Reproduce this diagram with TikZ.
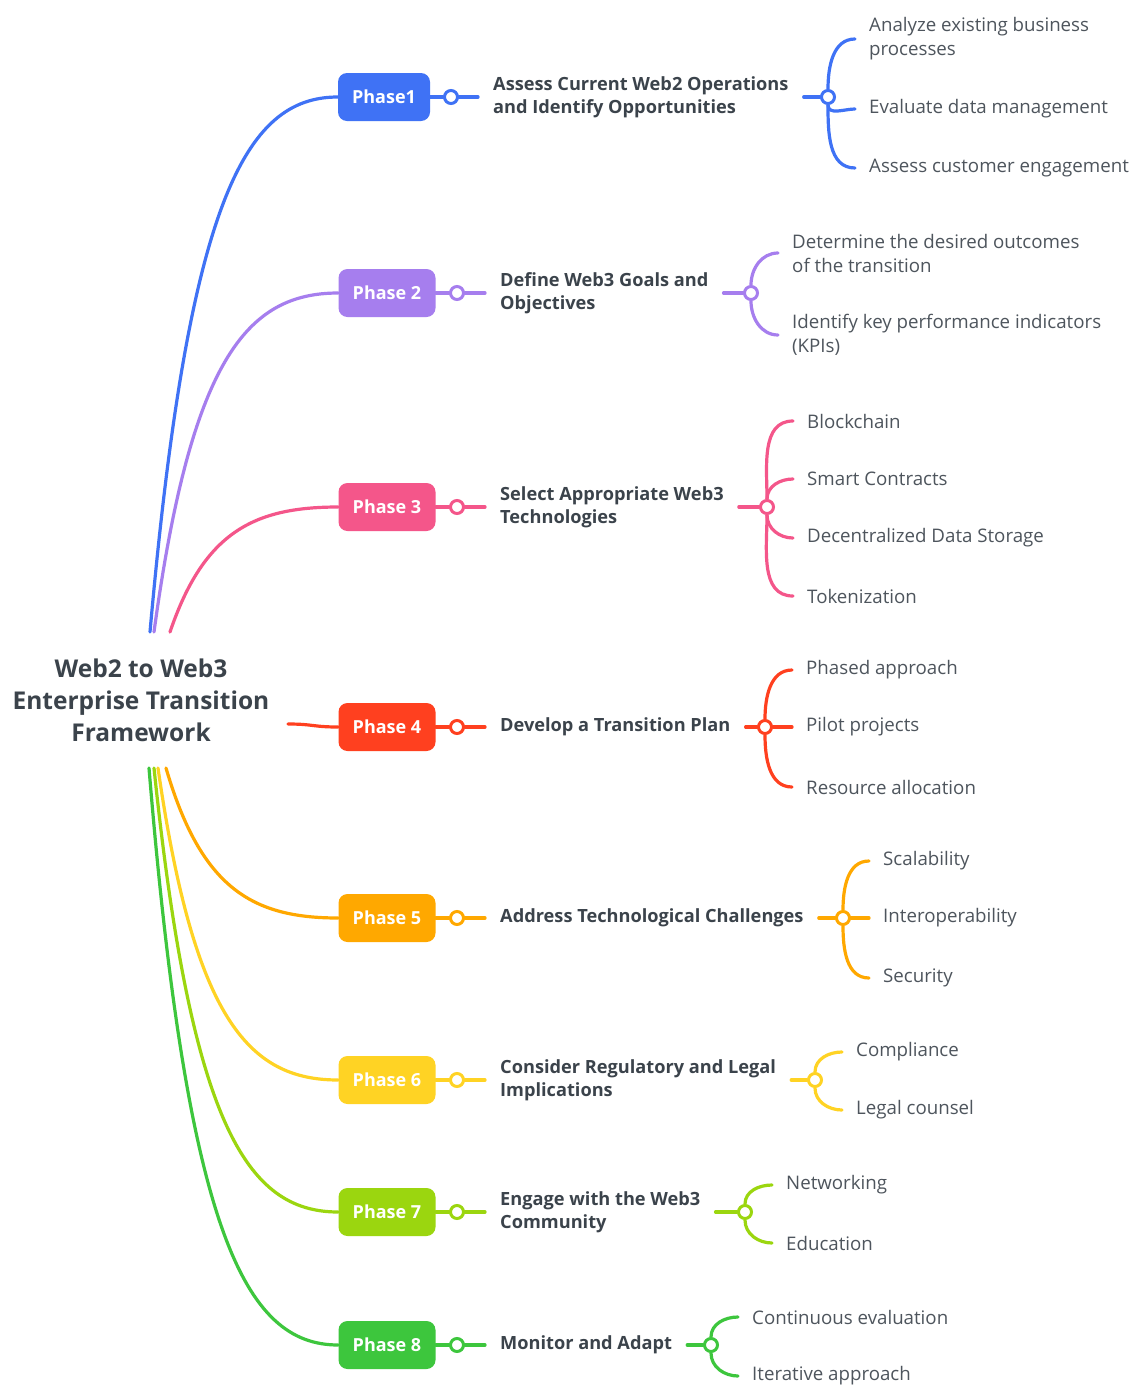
\documentclass[tikz,border=0pt]{standalone}
\usepackage{fontspec}
\setmainfont{Open Sans}
\usetikzlibrary{calc}
\definecolor{cblue}{HTML}{3F72F5}
\definecolor{cpurple}{HTML}{A67EEE}
\definecolor{cpink}{HTML}{F4568A}
\definecolor{cred}{HTML}{FF401F}
\definecolor{corange}{HTML}{FFA800}
\definecolor{cyellow}{HTML}{FFD324}
\definecolor{clime}{HTML}{9BD60F}
\definecolor{cgreen}{HTML}{3DC63D}
\definecolor{ink}{HTML}{3B434B}
\definecolor{leafink}{HTML}{4E555D}
\begin{document}
\begin{tikzpicture}[x=1pt,y=-1pt,
  link/.style={line width=3.2pt, line cap=round},
  phasebox/.style={fill=#1, rounded corners=9pt, minimum height=48pt, minimum width=97pt,
    text=white, font=\fontsize{18}{20}\selectfont\bfseries, inner sep=0pt},
  knob/.style={circle, draw=#1, line width=3pt, fill=white, minimum size=13pt, inner sep=0pt},
  stage/.style={anchor=west, align=left, text=ink, font=\fontsize{18.2}{23}\selectfont\bfseries,
    inner xsep=15pt, inner ysep=0pt},
  leaf/.style={anchor=west, align=left, text=leafink, font=\fontsize{18.7}{24}\selectfont,
    inner xsep=14pt, inner ysep=0pt, yshift=-2pt},
]
\useasboundingbox[fill=white] (0,0) rectangle (1135,1395);

% central topic
\node[align=center, text=ink, font=\fontsize{24.5}{32}\selectfont\bfseries] (root) at (141,700)
  {Web2 to Web3\\Enterprise Transition\\Framework};
\coordinate (s1) at (150,632);
\coordinate (s2) at (154,632);
\coordinate (s3) at (170,632);
\coordinate (s4) at (288,724);
\coordinate (s5) at (166,768);
\coordinate (s6) at (158,768);
\coordinate (s7) at (154,768);
\coordinate (s8) at (149,768);

% ---------- Phase 1 ----------
\node[phasebox=cblue, minimum width=92pt] (p1) at (384,97) {Phase1};
\node[knob=cblue] (c1) at (451,97) {};
\node[stage] (t1) at (478,97) {Assess Current Web2 Operations\\and Identify Opportunities};
\node[knob=cblue] (h1) at (828,97) {};
\node[leaf] (l11) at (855,37) {Analyze existing business\\processes};
\node[leaf] (l12) at (855,107) {Evaluate data management};
\node[leaf] (l13) at (855,166) {Assess customer engagement};
\draw[link,cblue] (s1) .. controls (188,204) and (244,97) .. (p1.west);
\draw[link,cblue] (p1.east) -- (c1) -- (t1.west);
\draw[link,cblue] (t1.east) -- (h1);
\draw[link,cblue] (h1) to[out=90,in=180] (l11.west);
\draw[link,cblue] (h1) to[out=-90,in=180] (l12.west);
\draw[link,cblue] (h1) to[out=-90,in=180] (l13.west);

% ---------- Phase 2 ----------
\node[phasebox=cpurple] (p2) at (387,293) {Phase 2};
\node[knob=cpurple] (c2) at (457,293) {};
\node[stage] (t2) at (485,293) {Define Web3 Goals and\\Objectives};
\node[knob=cpurple] (h2) at (751,293) {};
\node[leaf] (l21) at (778,251) {Determine the desired outcomes\\of the transition};
\node[leaf] (l22) at (778,333) {Identify key performance indicators\\(KPIs)};
\draw[link,cpurple] (s2) .. controls (191,361) and (246,293) .. (p2.west);
\draw[link,cpurple] (p2.east) -- (c2) -- (t2.west);
\draw[link,cpurple] (t2.east) -- (h2);
\draw[link,cpurple] (h2) to[out=90,in=180] (l21.west);
\draw[link,cpurple] (h2) to[out=-90,in=180] (l22.west);

% ---------- Phase 3 ----------
\node[phasebox=cpink] (p3) at (387,507) {Phase 3};
\node[knob=cpink] (c3) at (457,507) {};
\node[stage] (t3) at (485,507) {Select Appropriate Web3\\Technologies};
\node[knob=cpink] (h3) at (767,507) {};
\node[leaf] (l31) at (793,419) {Blockchain};
\node[leaf] (l32) at (793,477) {Smart Contracts};
\node[leaf] (l33) at (793,536) {Decentralized Data Storage};
\node[leaf] (l34) at (793,594) {Tokenization};
\draw[link,cpink] (s3) .. controls (204,532) and (254,507) .. (p3.west);
\draw[link,cpink] (p3.east) -- (c3) -- (t3.west);
\draw[link,cpink] (t3.east) -- (h3);
\draw[link,cpink] (h3) to[out=90,in=180] (l31.west);
\draw[link,cpink] (h3) to[out=90,in=180] (l32.west);
\draw[link,cpink] (h3) to[out=-90,in=180] (l33.west);
\draw[link,cpink] (h3) to[out=-90,in=180] (l34.west);

% ---------- Phase 4 ----------
\node[phasebox=cred] (p4) at (387,727) {Phase 4};
\node[knob=cred] (c4) at (457,727) {};
\node[stage] (t4) at (485,727) {Develop a Transition Plan};
\node[knob=cred] (h4) at (765,727) {};
\node[leaf] (l41) at (792,668) {Phased approach};
\node[leaf, yshift=2pt] (l42) at (792,727) {Pilot projects};
\node[leaf] (l43) at (792,785) {Resource allocation};
\draw[link,cred] (s4) .. controls (313,724) and (313,727) .. (p4.west);
\draw[link,cred] (p4.east) -- (c4) -- (t4.west);
\draw[link,cred] (t4.east) -- (h4);
\draw[link,cred] (h4) to[out=90,in=180] (l41.west);
\draw[link,cred] (h4) -- (l42.west);
\draw[link,cred] (h4) to[out=-90,in=180] (l43.west);

% ---------- Phase 5 ----------
\node[phasebox=corange] (p5) at (387,918) {Phase 5};
\node[knob=corange] (c5) at (457,918) {};
\node[stage] (t5) at (485,918) {Address Technological Challenges};
\node[knob=corange] (h5) at (843,918) {};
\node[leaf] (l51) at (869,859) {Scalability};
\node[leaf, yshift=2pt] (l52) at (869,918) {Interoperability};
\node[leaf] (l53) at (869,976) {Security};
\draw[link,corange] (s5) .. controls (201,888) and (252,918) .. (p5.west);
\draw[link,corange] (p5.east) -- (c5) -- (t5.west);
\draw[link,corange] (t5.east) -- (h5);
\draw[link,corange] (h5) to[out=90,in=180] (l51.west);
\draw[link,corange] (h5) -- (l52.west);
\draw[link,corange] (h5) to[out=-90,in=180] (l53.west);

% ---------- Phase 6 ----------
\node[phasebox=cyellow] (p6) at (387,1080) {Phase 6};
\node[knob=cyellow] (c6) at (457,1080) {};
\node[stage] (t6) at (485,1080) {Consider Regulatory and Legal\\Implications};
\node[knob=cyellow] (h6) at (815,1080) {};
\node[leaf] (l61) at (842,1050) {Compliance};
\node[leaf] (l62) at (842,1108) {Legal counsel};
\draw[link,cyellow] (s6) .. controls (194,1018) and (248,1080) .. (p6.west);
\draw[link,cyellow] (p6.east) -- (c6) -- (t6.west);
\draw[link,cyellow] (t6.east) -- (h6);
\draw[link,cyellow] (h6) to[out=90,in=180] (l61.west);
\draw[link,cyellow] (h6) to[out=-90,in=180] (l62.west);

% ---------- Phase 7 ----------
\node[phasebox=clime] (p7) at (387,1212) {Phase 7};
\node[knob=clime] (c7) at (457,1212) {};
\node[stage] (t7) at (485,1212) {Engage with the Web3\\Community};
\node[knob=clime] (h7) at (745,1212) {};
\node[leaf] (l71) at (772,1183) {Networking};
\node[leaf] (l72) at (772,1241) {Education};
\draw[link,clime] (s7) .. controls (191,1123) and (246,1212) .. (p7.west);
\draw[link,clime] (p7.east) -- (c7) -- (t7.west);
\draw[link,clime] (t7.east) -- (h7);
\draw[link,clime] (h7) to[out=90,in=180] (l71.west);
\draw[link,clime] (h7) to[out=-90,in=180] (l72.west);

% ---------- Phase 8 ----------
\node[phasebox=cgreen] (p8) at (387,1345) {Phase 8};
\node[knob=cgreen] (c8) at (457,1345) {};
\node[stage] (t8) at (485,1345) {Monitor and Adapt};
\node[knob=cgreen] (h8) at (711,1345) {};
\node[leaf] (l81) at (738,1315) {Continuous evaluation};
\node[leaf] (l82) at (738,1374) {Iterative approach};
\draw[link,cgreen] (s8) .. controls (187,1230) and (244,1345) .. (p8.west);
\draw[link,cgreen] (p8.east) -- (c8) -- (t8.west);
\draw[link,cgreen] (t8.east) -- (h8);
\draw[link,cgreen] (h8) to[out=90,in=180] (l81.west);
\draw[link,cgreen] (h8) to[out=-90,in=180] (l82.west);
\end{tikzpicture}
\end{document}
